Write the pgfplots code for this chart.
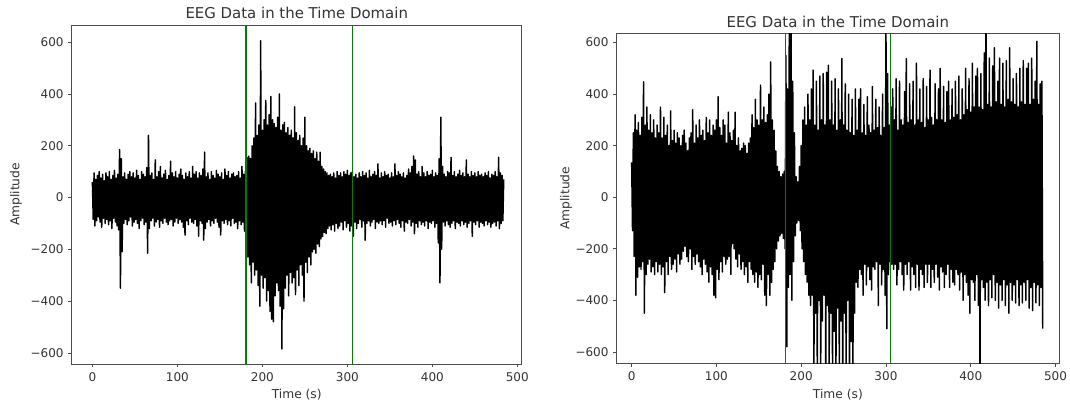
\documentclass[border=0pt]{standalone}
\usepackage{pgfplots}
\pgfplotsset{compat=1.18}
\usepackage{fontspec}
\setmainfont{DejaVu Sans}

\definecolor{mplgreen}{rgb}{0,0.5,0}

\pgfplotsset{
  eegaxis/.style={
    scale only axis,
    anchor=south west,
    tick align=outside,
    tick pos=left,
    major tick length=2.6pt,
    axis line style={black!70},
    every tick/.style={black!70, line width=0.5pt},
    xtick={0,100,200,300,400,500},
    ytick={-600,-400,-200,0,200,400,600},
    yticklabels={−600,−400,−200,0,200,400,600},
    xticklabels={0,100,200,300,400,500},
    ticklabel style={font=\fontsize{9}{10}\selectfont, text=black!80},
    xlabel={Time (s)},
    ylabel={Amplitude},
    label style={font=\fontsize{9.2}{10}\selectfont, text=black!80},
    xlabel style={at={(axis description cs:0.5,0)}, anchor=center, yshift=-23.2pt},
    every axis title shift=0pt,
    title={EEG Data in the Time Domain},
    title style={at={(axis description cs:0.5,1)}, anchor=center, yshift=8.7pt,
                 font=\fontsize{11.2}{12}\selectfont, text=black!80},
  },
  eeg/.style={black, line width=1.1pt, line join=round},
}

\begin{document}
\begin{tikzpicture}
\path[use as bounding box] (0,0) rectangle (802.5pt,303.75pt);

% left panel
\begin{axis}[eegaxis,
  at={(53.8pt,30.75pt)}, width=337.5pt, height=254.25pt,
  xmin=-24.3, xmax=505.2, ymin=-643, ymax=666,
  ylabel style={at={(axis description cs:0,0.5)}, anchor=center, yshift=41.8pt},
]
\addplot[eeg] coordinates {
(0,60)(1,-85)(2,95)(3,-110)(4,70)(5,-90)(6,85)(7,-75)(8,100)(9,-95)
(10,75)(11,-115)(12,90)(13,-80)(14,65)(15,-100)(16,95)(17,-85)(18,80)(19,-105)
(20,100)(21,-90)(22,70)(23,-120)(24,85)(25,-80)(26,105)(27,-95)(28,75)(29,-110)
(30,90)(31,-125)(32,185)(33,-350)(34,150)(35,-210)(36,80)(37,-100)(38,95)(39,-85)
(40,70)(41,-105)(42,90)(43,-90)(44,100)(45,-75)(46,80)(47,-110)(48,95)(49,-95)
(50,75)(51,-85)(52,105)(53,-100)(54,85)(55,-120)(56,70)(57,-90)(58,100)(59,-80)
(60,90)(61,-105)(62,80)(63,-95)(64,115)(65,-215)(66,240)(67,-120)(68,85)(69,-90)
(70,95)(71,-80)(72,70)(73,-110)(74,145)(75,-95)(76,80)(77,-85)(78,100)(79,-115)
(80,120)(81,-90)(82,75)(83,-100)(84,90)(85,-80)(86,105)(87,-95)(88,70)(89,-105)
(90,85)(91,-90)(92,140)(93,-85)(94,95)(95,-110)(96,80)(97,-95)(98,100)(99,-80)
(100,75)(101,-100)(102,90)(103,-85)(104,110)(105,-95)(106,85)(107,-115)(108,70)(109,-145)
(110,95)(111,-90)(112,80)(113,-105)(114,100)(115,-80)(116,75)(117,-95)(118,120)(119,-100)
(120,90)(121,-85)(122,100)(123,-110)(124,75)(125,-150)(126,95)(127,-90)(128,85)(129,-100)
(130,110)(131,-165)(132,175)(133,-120)(134,80)(135,-95)(136,95)(137,-85)(138,70)(139,-110)
(140,100)(141,-90)(142,85)(143,-100)(144,75)(145,-80)(146,105)(147,-95)(148,90)(149,-115)
(150,80)(151,-145)(152,95)(153,-90)(154,70)(155,-100)(156,110)(157,-85)(158,85)(159,-105)
(160,100)(161,-90)(162,75)(163,-110)(164,90)(165,-80)(166,95)(167,-100)(168,80)(169,-95)
(170,85)(171,-120)(172,100)(173,-90)(174,75)(175,-105)(176,120)(177,-95)(178,90)(179,-130)
(180,100)(181,-110)(182,155)(183,-230)(184,160)(185,-260)(186,150)(187,-330)(188,200)(189,-250)
(190,230)(191,-300)(192,365)(193,-280)(194,240)(195,-340)(196,280)(197,-420)(198,605)(199,-300)
(200,260)(201,-350)(202,300)(203,-310)(204,375)(205,-400)(206,280)(207,-360)(208,320)(209,-440)
(210,390)(211,-470)(212,300)(213,-480)(214,285)(215,-380)(216,270)(217,-330)(218,310)(219,-360)
(220,400)(221,-420)(222,260)(223,-585)(224,280)(225,-430)(226,290)(227,-350)(228,250)(229,-300)
(230,270)(231,-380)(232,240)(233,-290)(234,260)(235,-330)(236,230)(237,-310)(238,350)(239,-375)
(240,250)(241,-280)(242,220)(243,-340)(244,240)(245,-260)(246,200)(247,-300)(248,230)(249,-400)
(250,310)(251,-250)(252,200)(253,-290)(254,180)(255,-230)(256,190)(257,-260)(258,170)(259,-210)
(260,180)(261,-200)(262,150)(263,-215)(264,175)(265,-180)(266,140)(267,-190)(268,175)(269,-160)
(270,120)(271,-150)(272,110)(273,-135)(274,100)(275,-140)(276,95)(277,-120)(278,85)(279,-110)
(280,90)(281,-125)(282,80)(283,-105)(284,95)(285,-130)(286,75)(287,-100)(288,100)(289,-120)
(290,85)(291,-110)(292,95)(293,-95)(294,80)(295,-125)(296,100)(297,-90)(298,90)(299,-115)
(300,105)(301,-100)(302,85)(303,-130)(304,95)(305,-110)(306,100)(307,-150)(308,80)(309,-95)
(310,90)(311,-120)(312,75)(313,-100)(314,95)(315,-85)(316,80)(317,-115)(318,100)(319,-90)
(320,85)(321,-165)(322,95)(323,-100)(324,75)(325,-90)(326,105)(327,-110)(328,80)(329,-95)
(330,90)(331,-85)(332,100)(333,-120)(334,85)(335,-95)(336,130)(337,-100)(338,75)(339,-90)
(340,95)(341,-105)(342,80)(343,-90)(344,100)(345,-115)(346,85)(347,-80)(348,90)(349,-100)
(350,75)(351,-95)(352,95)(353,-110)(354,80)(355,-90)(356,130)(357,-105)(358,85)(359,-85)
(360,100)(361,-100)(362,90)(363,-115)(364,80)(365,-90)(366,95)(367,-130)(368,75)(369,-95)
(370,85)(371,-100)(372,110)(373,-85)(374,95)(375,-110)(376,120)(377,-95)(378,160)(379,-140)
(380,145)(381,-100)(382,90)(383,-115)(384,100)(385,-90)(386,80)(387,-105)(388,120)(389,-95)
(390,95)(391,-110)(392,80)(393,-90)(394,100)(395,-120)(396,85)(397,-95)(398,90)(399,-100)
(400,105)(401,-90)(402,80)(403,-115)(404,95)(405,-100)(406,85)(407,-175)(408,150)(409,-330)
(410,310)(411,-200)(412,120)(413,-95)(414,90)(415,-110)(416,80)(417,-90)(418,100)(419,-105)
(420,95)(421,-115)(422,155)(423,-100)(424,85)(425,-90)(426,100)(427,-120)(428,80)(429,-95)
(430,90)(431,-100)(432,105)(433,-110)(434,85)(435,-90)(436,95)(437,-105)(438,80)(439,-95)
(440,145)(441,-115)(442,90)(443,-100)(444,80)(445,-90)(446,100)(447,-150)(448,85)(449,-95)
(450,95)(451,-105)(452,80)(453,-90)(454,100)(455,-115)(456,85)(457,-95)(458,90)(459,-100)
(460,80)(461,-110)(462,95)(463,-90)(464,85)(465,-105)(466,100)(467,-95)(468,75)(469,-115)
(470,90)(471,-100)(472,85)(473,-95)(474,100)(475,-110)(476,80)(477,-90)(478,155)(479,-120)
(480,95)(481,-100)(482,85)(483,-90)(484,70)
};
\addplot[mplgreen, line width=1.1pt] coordinates {(181,-1000)(181,1000)};
\addplot[mplgreen, line width=1.1pt] coordinates {(306,-1000)(306,1000)};
\end{axis}

% right panel
\begin{axis}[eegaxis,
  at={(462.5pt,31.3pt)}, width=331.75pt, height=247.5pt,
  xmin=-17.7, xmax=504.2, ymin=-644, ymax=636,
  ylabel style={at={(axis description cs:0,0.5)}, anchor=center, yshift=38pt},
]
\addplot[eeg] coordinates {
(0,135)(1,-130)(2,250)(3,-230)(4,320)(5,-380)(6,260)(7,-310)(8,290)(9,-270)
(10,240)(11,-280)(12,310)(13,-250)(14,448)(15,-450)(16,280)(17,-300)(18,350)(19,-260)
(20,260)(21,-240)(22,320)(23,-290)(24,250)(25,-270)(26,300)(27,-300)(28,230)(29,-250)
(30,280)(31,-290)(32,250)(33,-260)(34,350)(35,-300)(36,230)(37,-270)(38,310)(39,-370)
(40,240)(41,-250)(42,280)(43,-300)(44,200)(45,-230)(46,335)(47,-280)(48,220)(49,-260)
(50,260)(51,-240)(52,210)(53,-290)(54,250)(55,-220)(56,230)(57,-260)(58,200)(59,-240)
(60,240)(61,-210)(62,260)(63,-190)(64,210)(65,-230)(66,180)(67,-250)(68,230)(69,-200)
(70,250)(71,-280)(72,340)(73,-230)(74,210)(75,-260)(76,280)(77,-220)(78,230)(79,-250)
(80,300)(81,-270)(82,240)(83,-300)(84,260)(85,-240)(86,220)(87,-260)(88,310)(89,-290)
(90,250)(91,-330)(92,300)(93,-270)(94,240)(95,-300)(96,280)(97,-380)(98,260)(99,-390)
(100,300)(101,-280)(102,390)(103,-320)(104,270)(105,-250)(106,240)(107,-290)(108,300)(109,-230)
(110,280)(111,-260)(112,210)(113,-240)(114,330)(115,-230)(116,250)(117,-300)(118,220)(119,-180)
(120,260)(121,-200)(122,330)(123,-240)(124,200)(125,-270)(126,230)(127,-220)(128,180)(129,-280)
(130,190)(131,-250)(132,210)(133,-300)(134,200)(135,-270)(136,170)(137,-330)(138,210)(139,-250)
(140,230)(141,-280)(142,320)(143,-300)(144,270)(145,-330)(146,380)(147,-290)(148,300)(149,-350)
(150,280)(151,-300)(152,435)(153,-320)(154,300)(155,-260)(156,350)(157,-380)(158,290)(159,-420)
(160,320)(161,-300)(162,400)(163,-380)(164,525)(165,-330)(166,300)(167,-280)(168,260)(169,-250)
(170,180)(171,-200)(172,120)(173,-170)(174,100)(175,-150)(176,80)(177,-140)(178,90)(179,-160)
(180,100)(181,-200)(182,550)(183,-580)(184,420)(185,-350)(186,700)(187,-300)(188,700)(189,-400)
(190,450)(191,-250)(192,250)(193,-150)(194,80)(195,-100)(196,60)(197,-90)(198,120)(199,-130)
(200,200)(201,-200)(202,300)(203,-250)(204,350)(205,-300)(206,280)(207,-330)(208,400)(209,-380)
(210,300)(211,-420)(212,420)(213,-380)(214,493)(215,-700)(216,280)(217,-450)(218,450)(219,-700)
(220,260)(221,-400)(222,470)(223,-700)(224,300)(225,-480)(226,480)(227,-380)(228,280)(229,-700)
(230,485)(231,-420)(232,512)(233,-700)(234,300)(235,-450)(236,450)(237,-700)(238,280)(239,-520)
(240,460)(241,-700)(242,260)(243,-430)(244,420)(245,-700)(246,300)(247,-480)(248,538)(249,-700)
(250,280)(251,-450)(252,440)(253,-700)(254,260)(255,-400)(256,400)(257,-700)(258,250)(259,-560)
(260,380)(261,-700)(262,240)(263,-450)(264,420)(265,-330)(266,260)(267,-350)(268,380)(269,-280)
(270,420)(271,-300)(272,250)(273,-380)(274,360)(275,-260)(276,240)(277,-340)(278,390)(279,-270)
(280,280)(281,-320)(282,250)(283,-360)(284,430)(285,-270)(286,260)(287,-280)(288,380)(289,-250)
(290,270)(291,-420)(292,350)(293,-260)(294,240)(295,-340)(296,400)(297,-280)(298,270)(299,-380)
(300,700)(301,-510)(302,480)(303,-300)(304,280)(305,-250)(306,350)(307,-260)(308,420)(309,-280)
(310,300)(311,-260)(312,460)(313,-340)(314,260)(315,-280)(316,450)(317,-250)(318,300)(319,-300)
(320,280)(321,-360)(322,410)(323,-260)(324,538)(325,-300)(326,290)(327,-250)(328,440)(329,-360)
(330,300)(331,-270)(332,450)(333,-300)(334,280)(335,-350)(336,520)(337,-260)(338,300)(339,-360)
(340,420)(341,-280)(342,290)(343,-300)(344,460)(345,-350)(346,270)(347,-260)(348,430)(349,-330)
(350,300)(351,-260)(352,493)(353,-350)(354,310)(355,-280)(356,280)(357,-330)(358,440)(359,-260)
(360,300)(361,-310)(362,420)(363,-360)(364,500)(365,-270)(366,300)(367,-290)(368,430)(369,-350)
(370,290)(371,-300)(372,410)(373,-260)(374,450)(375,-350)(376,300)(377,-280)(378,420)(379,-330)
(380,310)(381,-340)(382,450)(383,-280)(384,320)(385,-300)(386,470)(387,-360)(388,300)(389,-290)
(390,420)(391,-400)(392,320)(393,-300)(394,500)(395,-330)(396,340)(397,-380)(398,460)(399,-450)
(400,330)(401,-320)(402,520)(403,-330)(404,350)(405,-400)(406,470)(407,-300)(408,500)(409,-420)
(410,350)(411,-700)(412,480)(413,-320)(414,340)(415,-350)(416,560)(417,-400)(418,700)(419,-330)
(420,360)(421,-420)(422,540)(423,-320)(424,350)(425,-390)(426,510)(427,-300)(428,580)(429,-400)
(430,370)(431,-330)(432,450)(433,-430)(434,540)(435,-340)(436,360)(437,-400)(438,520)(439,-320)
(440,350)(441,-420)(442,530)(443,-340)(444,380)(445,-450)(446,580)(447,-330)(448,370)(449,-400)
(450,460)(451,-340)(452,360)(453,-410)(454,480)(455,-320)(456,350)(457,-420)(458,500)(459,-340)
(460,370)(461,-410)(462,530)(463,-330)(464,360)(465,-400)(466,500)(467,-320)(468,520)(469,-430)
(470,360)(471,-350)(472,540)(473,-440)(474,380)(475,-330)(476,450)(477,-410)(478,605)(479,-340)
(480,360)(481,-420)(482,440)(483,-350)(484,450)(485,-510)
};
\addplot[mplgreen, line width=0.8pt] coordinates {(181,-1000)(181,1000)};
\addplot[mplgreen, line width=0.8pt] coordinates {(305,-1000)(305,1000)};
\end{axis}
\end{tikzpicture}
\end{document}
